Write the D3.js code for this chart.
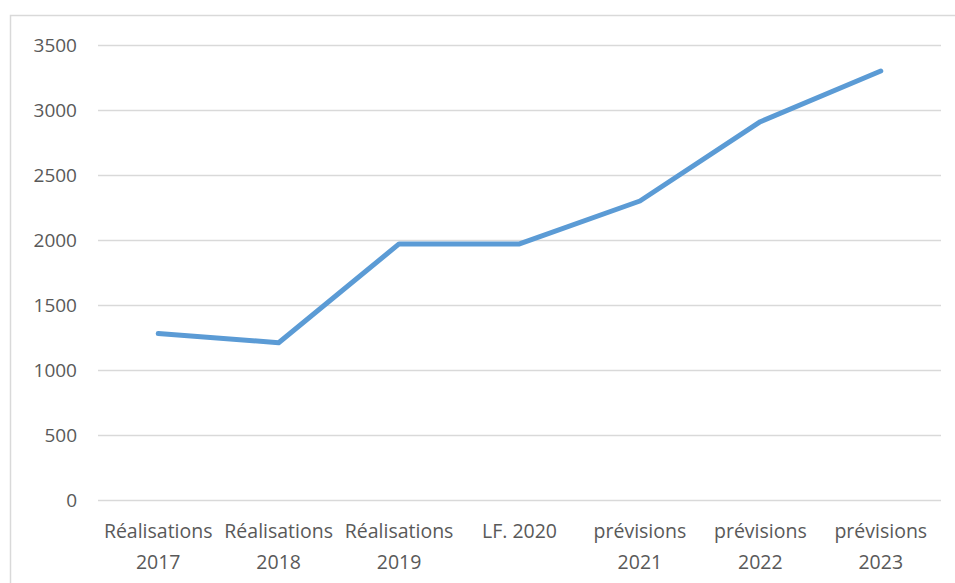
<!DOCTYPE html>
<html>
<head>
<meta charset="utf-8">
<script src="https://cdn.jsdelivr.net/npm/d3@7"></script>
<style>
  body { margin: 0; background: #fff; }
  text { font-family: "Open Sans", "Liberation Sans", sans-serif; fill: #595959; }
</style>
</head>
<body>
<script>
'use strict';

// data
const categories = [
  ["Réalisations", "2017"],
  ["Réalisations", "2018"],
  ["Réalisations", "2019"],
  ["LF. 2020"],
  ["prévisions", "2021"],
  ["prévisions", "2022"],
  ["prévisions", "2023"]
];
const values = [1280, 1210, 1970, 1970, 2300, 2910, 3300];
const yTicks = [0, 500, 1000, 1500, 2000, 2500, 3000, 3500];

const width = 955, height = 583;

const svg = d3.select('body').append('svg')
  .attr('width', width)
  .attr('height', height);

// chart area border
svg.append('rect')
  .attr('x', 10.5).attr('y', 15.5)
  .attr('width', 960).attr('height', 600)
  .attr('fill', 'none')
  .attr('stroke', '#d9d9d9')
  .attr('stroke-width', 1.5);

const x = d3.scaleBand()
  .domain(d3.range(categories.length))
  .range([98, 941]);

const y = d3.scaleLinear()
  .domain([0, 3500])
  .range([500, 45]);

// gridlines + y labels
const yAxis = d3.axisLeft(y)
  .tickValues(yTicks)
  .tickFormat(d3.format('d'))
  .tickSize(-(941 - 98))
  .tickPadding(21);

const gy = svg.append('g')
  .attr('transform', 'translate(98,0)')
  .call(yAxis);
gy.select('.domain').remove();
gy.selectAll('.tick line').attr('stroke', '#d9d9d9').attr('stroke-width', 1.5);
gy.selectAll('.tick text')
  .style('font-size', '19px')
  .attr('fill', '#595959');

// category labels
const xl = svg.append('g');
categories.forEach((lines, i) => {
  const t = xl.append('text')
    .attr('x', x(i) + x.bandwidth() / 2)
    .attr('y', 538)
    .attr('text-anchor', 'middle')
    .style('font-size', '19.5px');
  lines.forEach((s, j) => {
    t.append('tspan')
      .attr('x', x(i) + x.bandwidth() / 2)
      .attr('dy', j === 0 ? 0 : 31)
      .text(s);
  });
});

// the line
const line = d3.line()
  .x((d, i) => x(i) + x.bandwidth() / 2)
  .y(d => y(d));

svg.append('path')
  .datum(values)
  .attr('d', line)
  .attr('fill', 'none')
  .attr('stroke', '#5b9bd5')
  .attr('stroke-width', 5)
  .attr('stroke-linecap', 'round')
  .attr('stroke-linejoin', 'round');
</script>
</body>
</html>
